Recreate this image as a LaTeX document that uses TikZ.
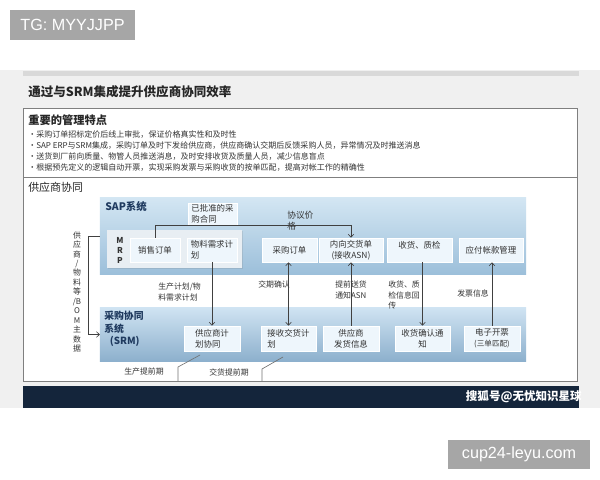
\documentclass[tikz,border=0pt]{standalone}
\usepackage{fontspec}
\setmainfont{Noto Sans CJK SC}
\newfontfamily\wmfont{Liberation Sans}
\usepackage{xcolor}
\usepackage{tikz}
\usetikzlibrary{positioning, shadows, calc, arrows.meta}

\definecolor{slidegray}{HTML}{F0F0F0}
\definecolor{bandgray}{HTML}{D9D9D9}
\definecolor{framegray}{HTML}{7F7F7F}
\definecolor{tagGray}{HTML}{A6A6A6}
\definecolor{navyband}{HTML}{14253B}
\definecolor{textgray}{HTML}{333333}
\definecolor{headblue}{HTML}{1F3A5F}
\definecolor{sapTop}{HTML}{D3E6F3}
\definecolor{sapBot}{HTML}{9CBFDA}
\definecolor{srmTop}{HTML}{CFE3F2}
\definecolor{srmBot}{HTML}{8DB0CD}
\definecolor{boxfill}{HTML}{EEF6FC}
\definecolor{mrpfill}{HTML}{E8EEF3}

\begin{document}
\begin{tikzpicture}%
	[x=0.025cm, y=-0.025cm,
	panel/.style={inner sep=0pt, outer sep=0pt},
	sysbox/.style={draw=white, fill=boxfill, line width=0.4pt, inner sep=1pt,
		minimum height=0.6cm, text=textgray, font=\fontsize{6}{7.6}\selectfont,
		drop shadow={opacity=0.25, shadow xshift=0.6pt, shadow yshift=-0.6pt}},
	lab/.style={inner sep=0pt, text=textgray, align=left, font=\fontsize{5.6}{7.4}\selectfont},
	conn/.style={draw=black!75, line width=0.45pt},
	>={Straight Barb[length=2.2pt, width=4pt]},
	tag/.style={fill=tagGray, text=white, inner sep=0pt, font=\wmfont\fontsize{11.5}{12}\selectfont}]
%
%% Canvas and slide frame
%%
\useasboundingbox (0,0) rectangle (600,480);
\fill[white] (0,0) rectangle (600,480);
\fill[slidegray] (0,70) rectangle (600,408);
\fill[bandgray] (23,71) rectangle (579,76);
\fill[navyband] (23,386) rectangle (579,408);
\draw[framegray, line width=0.7pt, fill=white] (23,108) rectangle (577,381);
\draw[framegray, line width=0.7pt] (23,177) -- (577,177);
%%
%% Watermark tags
%%
\node[tag, minimum width=3.125cm, minimum height=0.75cm] (tgtag) at (72.5,25) {TG: MYYJJPP};
\node[tag, minimum width=3.55cm, minimum height=0.725cm] (urltag) at (519,454.5) {cup24-leyu.com};
\node[anchor=east, text=white, inner sep=0pt, font=\bfseries\fontsize{8.2}{9}\selectfont] (sohu) at (582,397) {搜狐号@无忧知识星球};
%%
%% Title and key features
%%
\node[anchor=west, inner sep=0pt, text=black!85, font=\bfseries\fontsize{8.9}{11}\selectfont] (title) at (28,92) {通过与SRM集成提升供应商协同效率};
\node[anchor=west, inner sep=0pt, text=black!85, font=\bfseries\fontsize{8}{9}\selectfont] (keyhead) at (28,120) {重要的管理特点};
\node[anchor=north west, inner sep=0pt, text=textgray, align=left, font=\fontsize{5.7}{7.8}\selectfont] (keylist) at (28,130.5)
	{•采购订单招标定价后线上审批，保证价格真实性和及时性\\
	 •SAP ERP与SRM集成，采购订单及时下发给供应商，供应商确认交期后反馈采购人员，异常情况及时推送消息\\
	 •送货到厂前向质量、物管人员推送消息，及时安排收货及质量人员，减少信息盲点\\
	 •根据预先定义的逻辑自动开票，实现采购发票与采购收货的按单匹配，提高对帐工作的精确性};
\node[anchor=west, inner sep=0pt, text=black!85, font=\fontsize{7.8}{9}\selectfont] (collab) at (28,187) {供应商协同};
%%
%% System panels
%%
\node[panel, minimum width=10.65cm, minimum height=1.9cm, top color=sapTop, bottom color=sapBot] (sap) at (313,236) {};
\node[panel, minimum width=10.65cm, minimum height=1.325cm, top color=srmTop, bottom color=srmBot] (srm) at (313,334.5) {};
\node[anchor=west, inner sep=0pt, text=headblue, font=\bfseries\fontsize{7.4}{9}\selectfont] (saphead) at (105,207) {SAP系统};
\node[anchor=north west, inner sep=0pt, text=headblue, align=left, font=\bfseries\fontsize{7}{8.9}\selectfont] (srmhead) at (104,311)
	{采购协同\\系统\\\hspace{4pt}(SRM)};
%%
%% SAP side
%%
\node[panel, fill=mrpfill, minimum width=3.375cm, minimum height=0.95cm,
	drop shadow={opacity=0.2, shadow xshift=0.6pt, shadow yshift=-0.6pt}] (mrp) at (174.5,249) {};
\node[inner sep=0pt, text=black!80, align=center, font=\bfseries\fontsize{5.8}{7.1}\selectfont] (mrplab) at (120,250) {M\\R\\P};
\node[sysbox, minimum width=1.25cm] (xsdd) at (155,250) {销售订单};
\node[sysbox, minimum width=1.25cm, align=left] (wlxq) at (212,250) {物料需求计\\划};
\node[sysbox, minimum width=1.225cm, minimum height=0.55cm, align=left] (htong) at (212.5,214) {已批准的采\\购合同};
\node[sysbox, minimum width=1.375cm] (cgdd) at (289.5,250) {采购订单};
\node[sysbox, minimum width=1.6cm, align=center] (nxjh) at (351,250) {内向交货单\\(接收ASN)};
\node[sysbox, minimum width=1.625cm, align=center] (shzj) at (419.5,250) {收货、质检\\~};
\node[sysbox, minimum width=1.6cm] (yfzk) at (491,250) {应付帐款管理};
%%
%% SRM side
%%
\node[sysbox, minimum width=1.4cm, minimum height=0.625cm, align=left] (gysjh) at (212,338.5) {供应商计\\划协同};
\node[sysbox, minimum width=1.375cm, minimum height=0.625cm, align=left] (jsjh) at (288.5,338.5) {接收交货计\\划};
\node[sysbox, minimum width=1.4cm, minimum height=0.625cm, align=center] (fhxx) at (351,338.5) {供应商\\发货信息};
\node[sysbox, minimum width=1.375cm, minimum height=0.625cm, align=center] (shqr) at (422.5,338.5) {收货确认通\\知};
\node[sysbox, minimum width=1.4cm, minimum height=0.625cm, align=center] (dzkp) at (492,338.5) {电子开票\\{\fontsize{5.4}{6}\selectfont(三单匹配)}};
%%
%% Connector labels
%%
\node[lab, anchor=north west, font=\fontsize{6.2}{8}\selectfont] (xyjg) at (287,210.5) {协议价\\格};
\node[lab, anchor=west] (scjh) at (158,292) {生产计划/物\\料需求计划};
\node[lab, anchor=west] (jqqr) at (258,284) {交期确认};
\node[lab, anchor=west] (tqsh) at (335,290) {提前送货\\通知ASN};
\node[lab, anchor=west] (shxx) at (388,295) {收货、质\\检信息回\\传};
\node[lab, anchor=west] (fpxx) at (457,293) {发票信息};
\node[lab, align=center, font=\fontsize{5.6}{6.75}\selectfont] (zsj) at (77,292)
	{供\\应\\商\\/\\物\\料\\等\\/B\\O\\M\\主\\数\\据};
\node[lab] (sctq) at (144,372) {生产提前期};
\node[lab] (jhtq) at (229,372) {交货提前期};
%%
%% Connectors
%%
\draw[conn,->] (xsdd.north) |- (nxjh.north |- htong.south) -- (nxjh.north);
\draw[conn,->] (wlxq.south) -- (gysjh.north);
\draw[conn,<->] (jsjh.north) -- (jsjh.north |- cgdd.south);
\draw[conn,->] (fhxx.north) -- (nxjh.south);
\draw[conn,->] (shqr.north |- shzj.south) -- (shqr.north);
\draw[conn,->] (dzkp.north) -- (dzkp.north |- yfzk.south);
\draw[conn,->] (sap.west) -- ++(-12,0) |- (srm.west);
%%
%% Lead time markers
%%
\coordinate (lt1a) at (178,381);
\coordinate (lt1b) at (178,367);
\coordinate (lt1c) at (200,355);
\coordinate (lt2a) at (262,381);
\coordinate (lt2b) at (262,369);
\coordinate (lt2c) at (283,357);
\draw[conn, draw=black!55] (lt1a) -- (lt1b) -- (lt1c);
\draw[conn, draw=black!55] (lt2a) -- (lt2b) -- (lt2c);
%%
\end{tikzpicture}
\end{document}
